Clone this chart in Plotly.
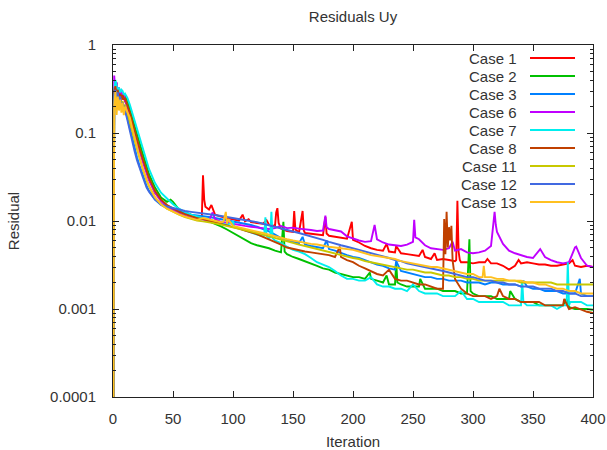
import plotly.graph_objects as go

# ---------------- data ----------------
CASE_NAMES = ["Case 1", "Case 2", "Case 3", "Case 6", "Case 7", "Case 8",
              "Case 11", "Case 12", "Case 13"]
CASE_COLORS = ["#ff0000", "#00c000", "#0080ff", "#c000ff", "#00eeee",
               "#c04000", "#c8c800", "#4169e1", "#ffc020"]

IT_EARLY = [0, 1, 2, 3, 4, 5, 6, 7, 8, 9, 10, 12, 14, 16, 18, 20, 22, 25, 28, 30,
            35, 40, 45, 50, 55, 60, 65, 70]
IT_LATE = list(range(75, 401, 5))

# Case 1
EARLY_1 = [1e-6, 0.33, 0.26, 0.37, 0.24, 0.30, 0.22, 0.28, 0.24, 0.25, 0.23, 0.20, 0.16, 0.125,
           0.10, 0.080, 0.066, 0.048, 0.036, 0.030, 0.021, 0.0172, 0.0150, 0.0137, 0.0128,
           0.0121, 0.0116, 0.0111]
LATE_1 = [0.0108, 0.0135, 0.0118, 0.0112, 0.0108, 0.0104, 0.0101, 0.0099, 0.0097, 0.0095,
          0.0093, 0.0091, 0.0088, 0.0082, 0.0077, 0.0075, 0.0074, 0.0073, 0.0072, 0.0071,
          0.0069, 0.0068, 0.0066, 0.0064, 0.0063, 0.0061, 0.0057, 0.0052, 0.0049, 0.0047,
          0.0046, 0.0045, 0.0044, 0.0043, 0.0042, 0.0041, 0.0040, 0.0039, 0.0037, 0.0036,
          0.0037, 0.0036, 0.0035, 0.0034, 0.0034, 0.0033, 0.0034, 0.0034, 0.0033, 0.0033,
          0.0031, 0.0028, 0.0031, 0.0033, 0.0034, 0.0033, 0.0032, 0.0032, 0.0031, 0.0031,
          0.0032, 0.0033, 0.0031, 0.0030, 0.0031, 0.0030]
SPIKES_1 = {74: 0.0108, 75: 0.033, 76: 0.0175, 77: 0.0145, 82: 0.0152, 108: 0.0118,
            113: 0.0105, 128: 0.0102, 136: 0.0125, 137: 0.014, 138: 0.0095, 151: 0.013,
            152: 0.0080, 158: 0.013, 159: 0.0078, 177: 0.0111, 178: 0.0072, 199: 0.0098,
            228: 0.0055, 236: 0.0052, 258: 0.0047, 268: 0.0043, 286: 0.0036, 287: 0.017,
            288: 0.0045, 289: 0.0036, 312: 0.0037, 338: 0.0036, 383: 0.0036}

# Case 2
EARLY_2 = [1e-6, 0.30, 0.36, 0.26, 0.33, 0.24, 0.30, 0.27, 0.26, 0.25, 0.27, 0.23, 0.19, 0.15,
           0.12, 0.095, 0.078, 0.057, 0.042, 0.034, 0.024, 0.0185, 0.0165, 0.0165, 0.0135,
           0.0125, 0.0117, 0.0111]
LATE_2 = [0.0106, 0.0099, 0.0094, 0.0087, 0.0080, 0.0073, 0.0067, 0.0061, 0.0056, 0.0053,
          0.0051, 0.0049, 0.0046, 0.0044, 0.0042, 0.0039, 0.0037, 0.0035, 0.0033, 0.0031,
          0.0029, 0.0028, 0.0026, 0.0025, 0.0024, 0.0023, 0.0023, 0.0022, 0.0022, 0.0021,
          0.0020, 0.0019, 0.0019, 0.0019, 0.0018, 0.0018, 0.0018, 0.0017, 0.0017, 0.0017,
          0.0016, 0.0016, 0.0016, 0.0015, 0.0015, 0.0015, 0.0014, 0.0014, 0.0014, 0.0013,
          0.0013, 0.0013, 0.0013, 0.0012, 0.0012, 0.0012, 0.0011, 0.0011, 0.0011, 0.0011,
          0.0011, 0.00105, 0.0010, 0.0010, 0.0010, 0.00098]
SPIKES_2 = {48: 0.0175, 142: 0.0098, 143: 0.0045, 214: 0.0026, 228: 0.0024, 236: 0.0034,
            237: 0.0020, 256: 0.0022, 297: 0.0062, 298: 0.0016, 331: 0.0016, 378: 0.0013}

# Case 3
EARLY_3 = [1e-6, 0.28, 0.32, 0.24, 0.30, 0.22, 0.27, 0.21, 0.22, 0.20, 0.19, 0.15, 0.115,
           0.088, 0.068, 0.053, 0.043, 0.032, 0.025, 0.022, 0.0175, 0.0152, 0.0141, 0.0134,
           0.0127, 0.0122, 0.0118, 0.0116]
LATE_3 = [0.0115, 0.0111, 0.0108, 0.0105, 0.0101, 0.0098, 0.0095, 0.0093, 0.0090, 0.0086,
          0.0081, 0.0076, 0.0070, 0.0064, 0.0060, 0.0058, 0.0056, 0.0054, 0.0052, 0.0050,
          0.0049, 0.0048, 0.0046, 0.0043, 0.0041, 0.0039, 0.0038, 0.0036, 0.0034, 0.0032,
          0.0031, 0.0029, 0.0028, 0.0027, 0.0026, 0.0025, 0.0024, 0.0023, 0.0023, 0.0022,
          0.0022, 0.0021, 0.0021, 0.0021, 0.0020, 0.0020, 0.0020, 0.0019, 0.0020, 0.0020,
          0.0019, 0.0019, 0.0019, 0.0018, 0.0018, 0.0017, 0.0017, 0.0016, 0.0016, 0.0016,
          0.0015, 0.0015, 0.0015, 0.0015, 0.0014, 0.0014]
SPIKES_3 = {158: 0.0066, 178: 0.0060, 236: 0.0035, 342: 0.0021, 389: 0.0022}

# Case 6
EARLY_6 = [1e-6, 0.45, 0.30, 0.38, 0.27, 0.33, 0.25, 0.30, 0.26, 0.28, 0.24, 0.20, 0.16, 0.12,
           0.095, 0.077, 0.063, 0.046, 0.035, 0.029, 0.021, 0.0168, 0.0146, 0.0132, 0.0122,
           0.0114, 0.0108, 0.0104]
LATE_6 = [0.0104, 0.0101, 0.0105, 0.0098, 0.0095, 0.0093, 0.0090, 0.0088, 0.0086, 0.0084,
          0.0082, 0.0081, 0.0083, 0.0088, 0.0083, 0.0084, 0.0082, 0.0081, 0.0079, 0.0077,
          0.0078, 0.0081, 0.0079, 0.0076, 0.0067, 0.0063, 0.0060, 0.0058, 0.0059, 0.0062,
          0.0057, 0.0054, 0.0053, 0.0052, 0.0054, 0.0058, 0.0062, 0.0053, 0.0049, 0.0048,
          0.0047, 0.0049, 0.0046, 0.0048, 0.0044, 0.0043, 0.0044, 0.0046, 0.0052, 0.0075,
          0.0055, 0.0046, 0.0043, 0.0041, 0.0039, 0.0038, 0.0046, 0.0039, 0.0036, 0.0034,
          0.0033, 0.0034, 0.0050, 0.0038, 0.0031, 0.0030]
SPIKES_6 = {83: 0.0125, 177: 0.0115, 178: 0.0085, 218: 0.0090, 251: 0.0103, 252: 0.0065,
            283: 0.0058, 318: 0.0127, 319: 0.0090, 356: 0.0048, 386: 0.0051}

# Case 7
EARLY_7 = [1e-6, 0.30, 0.40, 0.35, 0.28, 0.33, 0.29, 0.31, 0.30, 0.27, 0.28, 0.25, 0.21, 0.17,
           0.135, 0.108, 0.088, 0.064, 0.048, 0.039, 0.027, 0.021, 0.018, 0.0155, 0.0138,
           0.0126, 0.0118, 0.0112]
LATE_7 = [0.0108, 0.0104, 0.0099, 0.0095, 0.0090, 0.0086, 0.0083, 0.0078, 0.0074, 0.0070,
          0.0067, 0.0064, 0.0060, 0.0056, 0.0051, 0.0047, 0.0045, 0.0042, 0.0038, 0.0034,
          0.0032, 0.0030, 0.0027, 0.0024, 0.0022, 0.0022, 0.0021, 0.0021, 0.0020, 0.0019,
          0.0018, 0.0018, 0.0017, 0.0017, 0.0016, 0.0016, 0.0016, 0.0015, 0.0015, 0.0015,
          0.0014, 0.0014, 0.0014, 0.0014, 0.0013, 0.0013, 0.0012, 0.0012, 0.0012, 0.0012,
          0.0012, 0.0011, 0.0011, 0.0011, 0.0011, 0.0011, 0.0011, 0.0011, 0.0011, 0.0010,
          0.0011, 0.0011, 0.0012, 0.0012, 0.0011, 0.0011]
SPIKES_7 = {100: 0.0098, 101: 0.0086, 126: 0.0068, 127: 0.011, 128: 0.0068, 131: 0.0065,
            132: 0.0127, 133: 0.0064, 215: 0.0023, 250: 0.0019, 290: 0.0016, 341: 0.0021,
            342: 0.0012, 378: 0.0011, 379: 0.0034, 381: 0.0012}

# Case 8
EARLY_8 = [1e-6, 0.30, 0.34, 0.26, 0.31, 0.24, 0.28, 0.25, 0.27, 0.24, 0.25, 0.21, 0.17,
           0.135, 0.105, 0.083, 0.068, 0.050, 0.037, 0.031, 0.022, 0.0175, 0.0152, 0.0138,
           0.0128, 0.0120, 0.0113, 0.0108]
LATE_8 = [0.0105, 0.0101, 0.0097, 0.0093, 0.0089, 0.0086, 0.0082, 0.0078, 0.0075, 0.0071,
          0.0066, 0.0062, 0.0058, 0.0054, 0.0050, 0.0048, 0.0046, 0.0045, 0.0044, 0.0043,
          0.0042, 0.0041, 0.0039, 0.0038, 0.0036, 0.0034, 0.0031, 0.0029, 0.0027, 0.0025,
          0.0024, 0.0023, 0.0022, 0.0021, 0.0021, 0.0020, 0.0019, 0.0019, 0.0018, 0.0017,
          0.0017, 0.0085, 0.0022, 0.0017, 0.0015, 0.0014, 0.0014, 0.0014, 0.0013, 0.0014,
          0.0014, 0.0013, 0.0013, 0.0012, 0.0012, 0.0012, 0.0012, 0.0011, 0.0011, 0.0011,
          0.0011, 0.0010, 0.00105, 0.00098, 0.00093, 0.00090]
SPIKES_8 = {189: 0.0051, 190: 0.0039, 230: 0.0028, 276: 0.0105, 277: 0.0042, 278: 0.0127,
            279: 0.0050, 281: 0.0060, 282: 0.0088, 283: 0.0036, 322: 0.0017, 376: 0.0013}

# Case 11
EARLY_11 = [1e-6, 0.25, 0.30, 0.22, 0.27, 0.20, 0.25, 0.21, 0.23, 0.20, 0.21, 0.17, 0.135,
            0.105, 0.082, 0.065, 0.052, 0.038, 0.029, 0.025, 0.0185, 0.0155, 0.0138, 0.0127,
            0.0118, 0.0111, 0.0106, 0.0101]
LATE_11 = [0.0099, 0.0097, 0.0094, 0.0091, 0.0088, 0.0085, 0.0082, 0.0079, 0.0076, 0.0073,
           0.0070, 0.0067, 0.0064, 0.0061, 0.0058, 0.0056, 0.0054, 0.0052, 0.0050, 0.0048,
           0.0046, 0.0044, 0.0042, 0.0041, 0.0039, 0.0038, 0.0037, 0.0035, 0.0034, 0.0033,
           0.0032, 0.0031, 0.0030, 0.0029, 0.0028, 0.0028, 0.0027, 0.0026, 0.0026, 0.0025,
           0.0024, 0.0024, 0.0023, 0.0023, 0.0022, 0.0022, 0.0021, 0.0021, 0.0021, 0.0021,
           0.0021, 0.0021, 0.0021, 0.0020, 0.0020, 0.0020, 0.0020, 0.0020, 0.0020, 0.0019,
           0.0019, 0.0019, 0.0019, 0.0019, 0.0019, 0.0019]
SPIKES_11 = {}

# Case 12
EARLY_12 = [1e-6, 0.27, 0.31, 0.23, 0.29, 0.21, 0.26, 0.20, 0.22, 0.19, 0.18, 0.14, 0.105,
            0.080, 0.062, 0.049, 0.040, 0.031, 0.024, 0.0215, 0.0175, 0.0155, 0.0146, 0.0140,
            0.0135, 0.0130, 0.0127, 0.0125]
LATE_12 = [0.0123, 0.0120, 0.0117, 0.0114, 0.0111, 0.0108, 0.0106, 0.0104, 0.0101, 0.0097,
           0.0093, 0.0089, 0.0086, 0.0082, 0.0079, 0.0076, 0.0073, 0.0070, 0.0067, 0.0064,
           0.0061, 0.0058, 0.0056, 0.0053, 0.0051, 0.0049, 0.0047, 0.0045, 0.0043, 0.0041,
           0.0040, 0.0038, 0.0036, 0.0035, 0.0033, 0.0032, 0.0031, 0.0030, 0.0029, 0.0028,
           0.0027, 0.0026, 0.0025, 0.0024, 0.0023, 0.0023, 0.0022, 0.0021, 0.0021, 0.0020,
           0.0020, 0.0019, 0.0019, 0.0018, 0.0018, 0.0018, 0.0017, 0.0017, 0.0017, 0.0016,
           0.0016, 0.0015, 0.0015, 0.0014, 0.0014, 0.0014]
SPIKES_12 = {}

# Case 13
EARLY_13 = [1e-6, 0.20, 0.30, 0.16, 0.26, 0.18, 0.24, 0.17, 0.22, 0.16, 0.20, 0.17, 0.15,
            0.115, 0.088, 0.068, 0.054, 0.039, 0.030, 0.025, 0.0185, 0.0155, 0.0138, 0.0127,
            0.0119, 0.0112, 0.0107, 0.0103]
LATE_13 = [0.0108, 0.0104, 0.0100, 0.0097, 0.0093, 0.0088, 0.0085, 0.0082, 0.0079, 0.0076,
           0.0073, 0.0070, 0.0067, 0.0064, 0.0062, 0.0060, 0.0058, 0.0057, 0.0055, 0.0054,
           0.0052, 0.0051, 0.0050, 0.0049, 0.0048, 0.0047, 0.0045, 0.0043, 0.0041, 0.0040,
           0.0039, 0.0038, 0.0037, 0.0035, 0.0034, 0.0033, 0.0032, 0.0031, 0.0030, 0.0030,
           0.0029, 0.0028, 0.0027, 0.0026, 0.0025, 0.0025, 0.0023, 0.0023, 0.0023, 0.0022,
           0.0022, 0.0021, 0.0021, 0.0021, 0.0020, 0.0020, 0.0019, 0.0019, 0.0018, 0.0017,
           0.0017, 0.0016, 0.0016, 0.0015, 0.0015, 0.0015]
SPIKES_13 = {92: 0.0098, 94: 0.0127, 96: 0.0105, 308: 0.0023, 309: 0.0031, 311: 0.0023}

Y_TICK_VALUES = [0.0001, 0.001, 0.01, 0.1, 1]
Y_TICK_LABELS = ["0.0001", "0.001", "0.01", "0.1", "1"]
X_TICK_VALUES = [0, 50, 100, 150, 200, 250, 300, 350, 400]

EARLY = [EARLY_1, EARLY_2, EARLY_3, EARLY_6, EARLY_7, EARLY_8, EARLY_11, EARLY_12, EARLY_13]
LATE = [LATE_1, LATE_2, LATE_3, LATE_6, LATE_7, LATE_8, LATE_11, LATE_12, LATE_13]
SPIKES = [SPIKES_1, SPIKES_2, SPIKES_3, SPIKES_6, SPIKES_7, SPIKES_8, SPIKES_11,
          SPIKES_12, SPIKES_13]

# ---------------- figure ----------------
FONT = "Liberation Sans, Arial, sans-serif"
TXT = "#333333"
FS = 15

fig = go.Figure()
for name, color, early, late, spikes in zip(CASE_NAMES, CASE_COLORS, EARLY, LATE, SPIKES):
    pts = dict(zip(IT_EARLY, early))
    pts.update(zip(IT_LATE, late))
    pts.update(spikes)
    xs = sorted(pts)
    ys = [pts[k] for k in xs]
    fig.add_trace(go.Scatter(x=xs, y=ys, mode="lines", name=name,
                             line=dict(color=color, width=1.9), showlegend=False))

minor_vals = [m * 10.0 ** e for e in range(-4, 0) for m in range(2, 10)]

fig.update_xaxes(range=[0, 400], tickvals=X_TICK_VALUES, ticks="inside", ticklen=6,
                 tickcolor="#222", showline=True, linecolor="#222", linewidth=1,
                 mirror="ticks", showgrid=False, zeroline=False, automargin=False,
                 tickfont=dict(family=FONT, size=FS, color=TXT), ticklabelstandoff=8,
                 title=dict(text="Iteration", font=dict(family=FONT, size=FS, color=TXT),
                            standoff=10))
fig.update_yaxes(type="log", range=[-4, 0], tickvals=Y_TICK_VALUES, ticktext=Y_TICK_LABELS,
                 ticks="inside", ticklen=6, tickcolor="#222", showline=True,
                 linecolor="#222", linewidth=1, mirror="ticks", showgrid=False,
                 zeroline=False, automargin=False,
                 minor=dict(tickvals=minor_vals, ticks="inside", ticklen=3,
                            tickcolor="#222", showgrid=False),
                 tickfont=dict(family=FONT, size=FS, color=TXT), ticklabelstandoff=13,
                 title=dict(text="Residual", font=dict(family=FONT, size=FS, color=TXT),
                            standoff=26))

# legend drawn gnuplot style: right-aligned labels followed by a line sample
annotations = []
shapes = []
row0 = (397 - 58) / 352.0
step = 18 / 352.0
for i, (name, color) in enumerate(zip(CASE_NAMES, CASE_COLORS)):
    yy = row0 - i * step
    annotations.append(dict(text=name, x=(519 - 113) / 480.0, y=yy, xref="paper",
                            yref="paper", xanchor="right", yanchor="middle",
                            showarrow=False,
                            font=dict(family=FONT, size=FS, color=TXT)))
    shapes.append(dict(type="line", xref="paper", yref="paper",
                       x0=(530 - 113) / 480.0, x1=(575 - 113) / 480.0, y0=yy, y1=yy,
                       line=dict(color=color, width=1.9)))

fig.update_layout(
    width=607, height=450,
    margin=dict(l=113, r=14, t=45, b=53),
    paper_bgcolor="white", plot_bgcolor="white",
    title=dict(text="Residuals Uy", x=0.5, xref="paper", y=1 - 17 / 450, yref="container",
               xanchor="center", yanchor="middle",
               font=dict(family=FONT, size=FS, color=TXT)),
    annotations=annotations, shapes=shapes,
    showlegend=False,
)

fig.write_html("out.html", config={"displayModeBar": False},
               post_script="document.body.style.margin='0';"
                           "document.body.style.overflow='hidden';")
